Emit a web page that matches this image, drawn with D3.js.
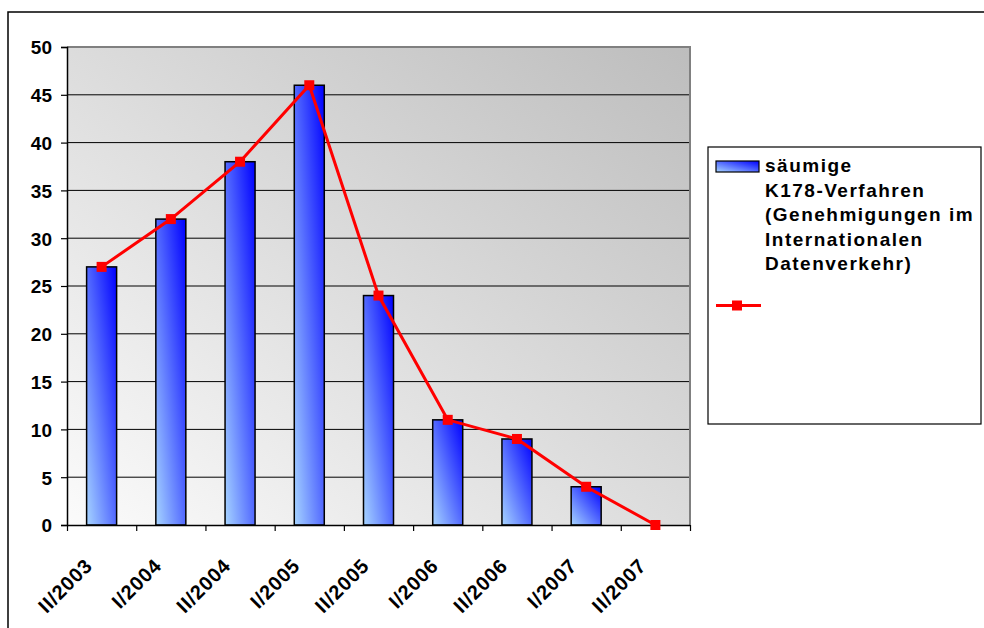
<!DOCTYPE html>
<html><head><meta charset="utf-8">
<script src="https://cdn.jsdelivr.net/npm/d3@7/dist/d3.min.js"></script>
<style>body{margin:0;background:#fff}svg{display:block}</style>
</head><body><svg id="c" width="984" height="628"></svg>
<script>
const categories = ["II/2003","I/2004","II/2004","I/2005","II/2005","I/2006","II/2006","I/2007","II/2007"];
const barValues = [27, 32, 38, 46, 24, 11, 9, 4, 0];
const lineValues = [27, 32, 38, 46, 24, 11, 9, 4, 0];
const yTicks = [0,5,10,15,20,25,30,35,40,45,50];
const legendLines = ["säumige","K178-Verfahren","(Genehmigungen im","Internationalen","Datenverkehr)"];

const svg = d3.select("#c");
const font = "Arial, 'Liberation Sans', sans-serif";
const L = 67, R = 690, T = 47, B = 525;

const defs = svg.append("defs");
const bg = defs.append("linearGradient").attr("id","bg").attr("x1",0).attr("y1",1).attr("x2",1).attr("y2",0);
bg.append("stop").attr("offset",0).attr("stop-color","#fbfbfb");
bg.append("stop").attr("offset",1).attr("stop-color","#bdbdbd");
const bar = defs.append("linearGradient").attr("id","bar").attr("x1",0).attr("y1",1).attr("x2",1).attr("y2",0);
bar.append("stop").attr("offset",0).attr("stop-color","#a6d4ff");
bar.append("stop").attr("offset",1).attr("stop-color","#0000ff");

// outer border
svg.append("rect").attr("x",8).attr("y",12).attr("width",1000).attr("height",700)
  .attr("fill","none").attr("stroke","#000").attr("stroke-width",1.5);

const x = d3.scaleBand().domain(categories).range([L,R]).padding(0);
const y = d3.scaleLinear().domain([0,50]).range([B,T]);

svg.append("rect").attr("x",L).attr("y",T).attr("width",R-L).attr("height",B-T).attr("fill","url(#bg)");

// gridlines
svg.append("g").selectAll("line").data(yTicks.filter(d=>d>0 && d<50)).join("line")
  .attr("x1",L).attr("x2",R).attr("y1",d=>y(d)).attr("y2",d=>y(d))
  .attr("stroke","#000").attr("stroke-width",1);

// plot border top/right
svg.append("path").attr("d",`M${L},${y(50)}H${R}V${B}`).attr("fill","none").attr("stroke","#808080").attr("stroke-width",2);

// bars
const bw = 30;
svg.append("g").selectAll("rect").data(barValues.map((v,i)=>({v,c:categories[i]})).filter(d=>d.v>0)).join("rect")
  .attr("x",d=>x(d.c)+x.bandwidth()/2-bw/2).attr("width",bw)
  .attr("y",d=>y(d.v)).attr("height",d=>B-y(d.v))
  .attr("fill","url(#bar)").attr("stroke","#000").attr("stroke-width",1.5);

// axes
const yAxis = svg.append("g").attr("transform",`translate(${L},0)`)
  .call(d3.axisLeft(y).tickValues(yTicks).tickSize(6).tickPadding(9));
yAxis.select(".domain").attr("stroke","#000").attr("stroke-width",1.5);
yAxis.selectAll(".tick line").attr("stroke","#000").attr("stroke-width",1.2);
yAxis.selectAll("text").attr("font-family",font).attr("font-size",19).attr("font-weight","bold").attr("fill","#000").attr("dy","0.36em");

const xb = d3.scaleLinear().domain([0,categories.length]).range([L,R]);
const xAxis = svg.append("g").attr("transform",`translate(0,${B})`)
  .call(d3.axisBottom(xb).tickValues(d3.range(categories.length+1)).tickSize(6).tickFormat(""));
xAxis.select(".domain").attr("stroke","#000").attr("stroke-width",1.5).attr("d",`M${L},0.5H${R}`);
xAxis.selectAll(".tick line").attr("stroke","#000").attr("stroke-width",1.2);

svg.append("g").selectAll("text").data(categories).join("text")
  .attr("transform",d=>`translate(${x(d)+x.bandwidth()/2-8},${B+42}) rotate(-45)`)
  .attr("text-anchor","end").attr("font-family",font).attr("font-size",20).attr("font-weight","bold")
  .attr("letter-spacing",0.8).text(d=>d);

// line
const cx = i => x(categories[i]) + x.bandwidth()/2;
svg.append("path").datum(lineValues).attr("d",d3.line().x((d,i)=>cx(i)).y(d=>y(d)))
  .attr("fill","none").attr("stroke","#ff0000").attr("stroke-width",3);
svg.append("g").selectAll("rect").data(lineValues).join("rect")
  .attr("x",(d,i)=>cx(i)-5).attr("y",d=>y(d)-5).attr("width",10).attr("height",10).attr("fill","#ff0000");

// legend
svg.append("rect").attr("x",708).attr("y",147).attr("width",273).attr("height",277)
  .attr("fill","#fff").attr("stroke","#000").attr("stroke-width",1.2);
svg.append("rect").attr("x",716).attr("y",161).attr("width",43).attr("height",11)
  .attr("fill","url(#bar)").attr("stroke","#000").attr("stroke-width",1.2);
svg.append("g").selectAll("text").data(legendLines).join("text")
  .attr("x",765).attr("y",(d,i)=>172+i*24.5)
  .attr("font-family",font).attr("font-size",19).attr("font-weight","bold").attr("letter-spacing",1.5)
  .text(d=>d);
svg.append("line").attr("x1",716).attr("x2",761).attr("y1",305.5).attr("y2",305.5).attr("stroke","#ff0000").attr("stroke-width",3);
svg.append("rect").attr("x",732).attr("y",300.5).attr("width",10).attr("height",10).attr("fill","#ff0000");
</script></body></html>
